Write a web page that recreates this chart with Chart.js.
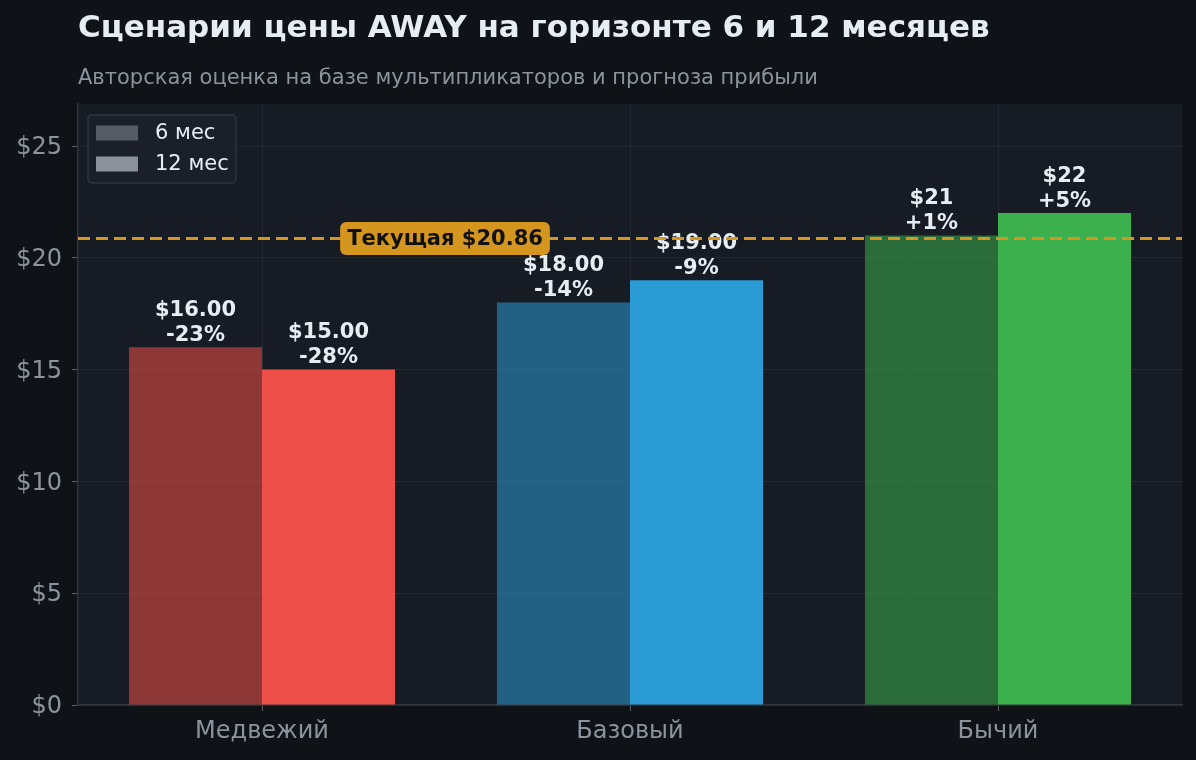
<!DOCTYPE html>
<html>
<head>
<meta charset="utf-8">
<script src="https://cdn.jsdelivr.net/npm/chart.js@4"></script>
<style>
  html, body { margin: 0; padding: 0; background: #0f1317; }
  #wrap { width: 1196px; height: 760px; }
</style>
</head>
<body>
<div id="wrap"><canvas id="chart" width="1196" height="760"></canvas></div>
<script>
// Data
const scenarios = ['Медвежий', 'Базовый', 'Бычий'];
const price6m = [16, 18, 21];
const price12m = [15, 19, 22];
const priceText6m = ['$16.00', '$18.00', '$21'];
const priceText12m = ['$15.00', '$19.00', '$22'];
const currentPrice = 20.86;
const seriesNames = ['6 мес', '12 мес'];
const yTicks = [0, 5, 10, 15, 20, 25];

// 6-month bars are the same hue as 12-month, just translucent
const colors6m = ['rgba(238,80,73,0.55)', 'rgba(43,155,214,0.55)', 'rgba(61,176,78,0.55)'];
const colors12m = ['#ee5049', '#2b9bd6', '#3db04e'];
const legendColors = ['#565b65', '#8a919b'];

const FONT = "'DejaVu Sans', sans-serif";

function pctText(v) {
    const p = Math.round((v / currentPrice - 1) * 100);
    return (p > 0 ? '+' : '') + p + '%';
}

// Backgrounds, title, legend, value labels, current-price line
const decorPlugin = {
    id: 'decor',
    beforeDraw(chart) {
        const { ctx, chartArea: a } = chart;
        ctx.save();
        ctx.fillStyle = '#0f1317';
        ctx.fillRect(0, 0, chart.width, chart.height);
        ctx.fillStyle = '#171b23';
        ctx.fillRect(a.left, a.top, a.right - a.left, a.bottom - a.top);

        ctx.textBaseline = 'middle';
        ctx.textAlign = 'left';
        ctx.fillStyle = '#e6edf3';
        ctx.font = 'bold 31px ' + FONT;
        ctx.fillText('Сценарии цены AWAY на горизонте 6 и 12 месяцев', 78, 29);
        ctx.fillStyle = '#8b949e';
        ctx.font = '21px ' + FONT;
        ctx.fillText('Авторская оценка на базе мультипликаторов и прогноза прибыли', 78, 79);
        ctx.restore();
    },
    afterDatasetsDraw(chart) {
        const { ctx, chartArea: a } = chart;
        const y = chart.scales.y;
        ctx.save();

        // value labels
        const texts = [priceText6m, priceText12m];
        const vals = [price6m, price12m];
        ctx.font = 'bold 21px ' + FONT;
        ctx.fillStyle = '#e6edf3';
        ctx.textAlign = 'center';
        ctx.textBaseline = 'middle';
        chart.data.datasets.forEach((ds, di) => {
            chart.getDatasetMeta(di).data.forEach((bar, i) => {
                ctx.fillText(texts[di][i], bar.x, bar.y - 37);
                ctx.fillText(pctText(vals[di][i]), bar.x, bar.y - 12);
            });
        });

        // current price line
        const py = y.getPixelForValue(currentPrice);
        ctx.strokeStyle = '#d4961e';
        ctx.lineWidth = 3;
        ctx.setLineDash([12, 6]);
        ctx.beginPath();
        ctx.moveTo(a.left, py);
        ctx.lineTo(a.right, py);
        ctx.stroke();
        ctx.setLineDash([]);

        // label box
        const label = 'Текущая $' + currentPrice.toFixed(2);
        ctx.font = 'bold 21px ' + FONT;
        const tw = ctx.measureText(label).width;
        const cx = 445, bw = tw + 14, bh = 33;
        ctx.fillStyle = '#d4961e';
        ctx.beginPath();
        ctx.roundRect(cx - bw / 2, py - bh / 2, bw, bh, 6);
        ctx.fill();
        ctx.fillStyle = '#111111';
        ctx.fillText(label, cx, py + 1);

        // legend
        ctx.fillStyle = '#1b1f28';
        ctx.strokeStyle = '#30353e';
        ctx.lineWidth = 1.5;
        ctx.beginPath();
        ctx.roundRect(88, 115, 148, 68, 4);
        ctx.fill();
        ctx.stroke();
        ctx.font = '21px ' + FONT;
        ctx.textAlign = 'left';
        seriesNames.forEach((name, i) => {
            const ly = 133 + i * 31;
            ctx.fillStyle = legendColors[i];
            ctx.fillRect(96, ly - 7.5, 42, 15);
            ctx.fillStyle = '#e6edf3';
            ctx.fillText(name, 155, ly + 1);
        });
        ctx.restore();
    }
};

new Chart(document.getElementById('chart'), {
    type: 'bar',
    data: {
        labels: scenarios,
        datasets: [
            { label: seriesNames[0], data: price6m, backgroundColor: colors6m, borderWidth: 0 },
            { label: seriesNames[1], data: price12m, backgroundColor: colors12m, borderWidth: 0 }
        ]
    },
    options: {
        responsive: false,
        animation: false,
        devicePixelRatio: 1,
        layout: { padding: { left: 0, right: 14, top: 104, bottom: 0 } },
        categoryPercentage: 0.723,
        barPercentage: 1.0,
        plugins: {
            legend: { display: false },
            title: { display: false },
            tooltip: { enabled: false }
        },
        scales: {
            x: {
                grid: { offset: false, color: '#232731', tickColor: '#5a5f68', tickLength: 6, lineWidth: 1 },
                border: { color: '#30343b', width: 1.5 },
                ticks: { color: '#8b949e', font: { family: FONT, size: 24 }, padding: 6 },
                afterFit(scale) { scale.height = 55; }
            },
            y: {
                min: 0,
                max: 26.88,
                afterBuildTicks(scale) { scale.ticks = yTicks.map(v => ({ value: v })); },
                grid: { color: '#232731', tickColor: '#5a5f68', tickLength: 6, lineWidth: 1 },
                border: { color: '#30343b', width: 1.5 },
                ticks: {
                    color: '#8b949e',
                    font: { family: FONT, size: 24 },
                    padding: 10,
                    labelOffset: 2,
                    callback: v => '$' + v
                },
                afterFit(scale) { scale.width = 78; }
            }
        }
    },
    plugins: [decorPlugin]
});
</script>
</body>
</html>
